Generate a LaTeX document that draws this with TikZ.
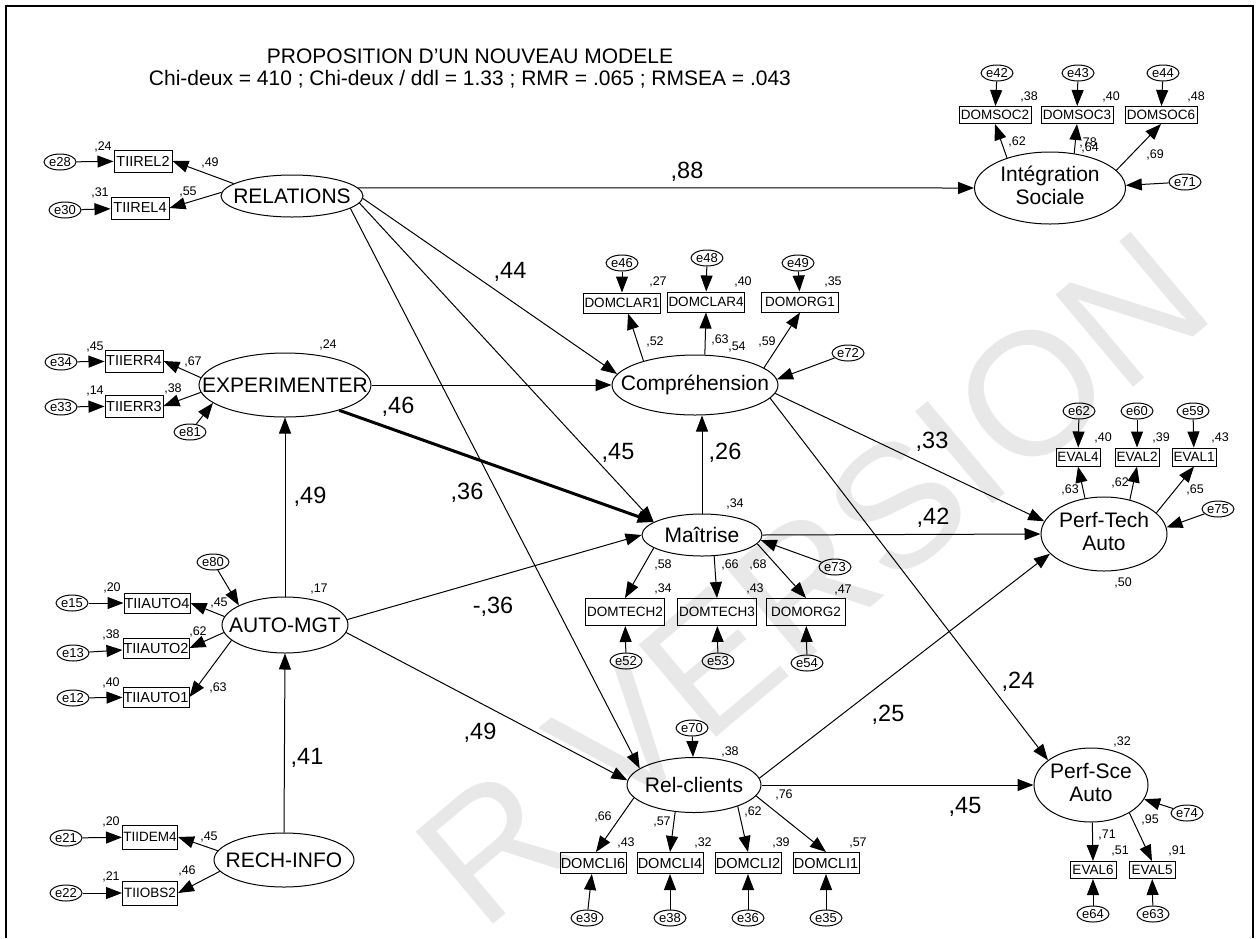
\documentclass[tikz,border=0pt]{standalone}
\usepackage{fontspec}
\setmainfont{Liberation Sans}
\usetikzlibrary{shapes.geometric,arrows.meta}

% latent names keep the size of their ellipse
\newcommand{\latname}[1]{\makebox[0pt]{#1}}
\newcommand{\latpair}[2]{\makebox[0pt]{\begin{tabular}{@{}c@{}}#1\\#2\end{tabular}}}

\tikzset{
  latent/.style={ellipse, draw, inner sep=0pt, font=\fontsize{21pt}{23pt}\selectfont},
  obs/.style={rectangle, draw, inner sep=0pt, font=\fontsize{13.5pt}{14pt}\selectfont},
  wideobs/.style={obs, font=\fontsize{14.5pt}{15pt}\selectfont},
  err/.style={ellipse, draw, inner sep=0pt, minimum width=32pt, minimum height=16pt,
    font=\fontsize{13pt}{14pt}\selectfont},
  coef/.style={inner sep=0pt, font=\fontsize{12.5pt}{13pt}\selectfont},
  bigcoef/.style={inner sep=0pt, font=\fontsize{23.5pt}{25pt}\selectfont},
  link/.style={-{Triangle[length=16pt,width=12pt]}},
}

\begin{document}
\begin{tikzpicture}[x=1pt, y=-1pt, line width=1pt]
    \useasboundingbox (0,0) rectangle (1258,938);

    % Watermark behind everything
    \node[rotate=40, inner sep=0pt, text=black!9,
      font=\fontsize{175pt}{175pt}\selectfont] (wm) at (812,578) {R VERSION};

    % Frame (open at the bottom)
    \draw[line width=2pt] (6,938) -- (6,6) -- (1253,6) -- (1253,938);

    % Title
    \node[anchor=base, font=\fontsize{21pt}{23pt}\selectfont] (title) at (470,63)
      {PROPOSITION D'UN NOUVEAU MODELE};
    \node[anchor=base, font=\fontsize{21pt}{23pt}\selectfont] (fit) at (470,85)
      {Chi-deux = 410 ; Chi-deux / ddl = 1.33 ; RMR = .065 ; RMSEA = .043};

    % Latent variables
    \node[latent, minimum width=142pt, minimum height=42pt] (REL) at (292,196) {\latname{RELATIONS}};
    \node[latent, minimum width=172pt, minimum height=64pt] (EXP) at (285,385) {\latname{EXPERIMENTER}};
    \node[latent, minimum width=126pt, minimum height=56pt] (AUTO) at (285,625) {\latname{AUTO-MGT}};
    \node[latent, minimum width=140pt, minimum height=54pt] (RECH) at (284,860) {\latname{RECH-INFO}};
    \node[latent, minimum width=151pt, minimum height=72pt] (INT) at (1050,188) {\latpair{Intégration}{Sociale}};
    \node[latent, minimum width=166pt, minimum height=60pt] (COMP) at (695,385) {\latname{Compréhension}};
    \node[latent, minimum width=120pt, minimum height=42pt] (MAI) at (702,535) {\latname{Maîtrise}};
    \node[latent, minimum width=126pt, minimum height=74pt] (PTA) at (1104,534) {\latpair{Perf-Tech}{Auto}};
    \node[latent, minimum width=134pt, minimum height=55pt] (RELC) at (694,785) {\latname{Rel-clients}};
    \node[latent, minimum width=114pt, minimum height=74pt] (PSA) at (1091,785) {\latpair{Perf-Sce}{Auto}};

    % Observed variables
    \foreach \n/\x/\y in {TIIREL2/143/161, TIIREL4/140/208, TIIERR4/134/361, TIIERR3/134/406}
    \node[wideobs, minimum width=58pt, minimum height=22pt] (\n) at (\x,\y) {\n};
    \foreach \n/\x/\y in {TIIAUTO4/157/603, TIIAUTO2/156/648, TIIAUTO1/156/697}
    \node[wideobs, minimum width=66pt, minimum height=20pt] (\n) at (\x,\y) {\n};
    \foreach \n/\x/\y in {TIIDEM4/150/837, TIIOBS2/150/893}
    \node[obs, minimum width=55pt, minimum height=24pt] (\n) at (\x,\y) {\n};
    \foreach \n/\x/\y in {DOMSOC2/995/115, DOMSOC3/1077/115, DOMSOC6/1161/115}
    \node[obs, minimum width=72pt, minimum height=17pt] (\n) at (\x,\y) {\n};
    \foreach \n/\x/\y in {DOMCLAR1/622/303, DOMCLAR4/706/302, DOMORG1/800/302}
    \node[obs, minimum width=77pt, minimum height=20pt] (\n) at (\x,\y) {\n};
    \foreach \n/\x/\y in {DOMTECH2/625/612, DOMTECH3/717/612, DOMORG2/806/612}
    \node[obs, minimum width=79pt, minimum height=27pt] (\n) at (\x,\y) {\n};
    \foreach \n/\x/\y in {DOMCLI6/593/863, DOMCLI4/670/863, DOMCLI2/748/863, DOMCLI1/826/863}
    \node[wideobs, minimum width=66pt, minimum height=21pt] (\n) at (\x,\y) {\n};
    \foreach \n/\x/\y in {EVAL4/1078/457, EVAL2/1137/457, EVAL1/1194/457}
    \node[obs, minimum width=44pt, minimum height=18pt] (\n) at (\x,\y) {\n};
    \foreach \n/\x/\y in {EVAL6/1093/870, EVAL5/1152/870}
    \node[obs, minimum width=46pt, minimum height=17pt] (\n) at (\x,\y) {\n};

    % Error terms and their arrows
    \foreach \e/\x/\y/\t in {e28/60/162/TIIREL2, e30/65/210/TIIREL4,
        e34/61/362/TIIERR4, e33/61/407/TIIERR3, e81/190/432/EXP.194,
        e80/213/562/AUTO.157, e15/72/603/TIIAUTO4, e13/73/653/TIIAUTO2, e12/73/698/TIIAUTO1,
        e21/66/838/TIIDEM4, e22/66/893/TIIOBS2,
        e42/997/73/DOMSOC2, e43/1078/73/DOMSOC3, e44/1163/73/DOMSOC6, e71/1185/182/INT.2,
        e46/622/263/DOMCLAR1, e48/707/258/DOMCLAR4, e49/798/263/DOMORG1, e72/848/353/COMP.4,
        e73/835/567/MAI.-5, e52/626/661/DOMTECH2, e53/718/661/DOMTECH3, e54/807/663/DOMORG2,
        e62/1079/411/EVAL4, e60/1137/411/EVAL2, e59/1193/411/EVAL1, e75/1218/509/PTA.6,
        e70/692/728/RELC, e39/587/918/DOMCLI6, e38/670/918/DOMCLI4, e36/748/918/DOMCLI2,
        e35/826/918/DOMCLI1, e64/1093/914/EVAL6, e63/1153/914/EVAL5, e74/1187/813/PSA.-15} {
        \node[err] (\e) at (\x,\y) {\e};
        \draw[link] (\e) -- (\t);
      }

    % Loadings
    \foreach \a/\b in {REL.168/TIIREL2.east, REL.177/TIIREL4.east,
        EXP.175/TIIERR4.east, EXP.185/TIIERR3.east,
        AUTO.172/TIIAUTO4.east, AUTO.187/TIIAUTO2.east, AUTO.196/TIIAUTO1.east,
        RECH.172/TIIDEM4.east, RECH.190/TIIOBS2.east,
        INT.145/DOMSOC2.south, INT.55/DOMSOC3.south, INT.15/DOMSOC6.south,
        COMP.155/DOMCLAR1.-60, COMP.72/DOMCLAR4.south, COMP.14/DOMORG1.south,
        MAI.195/DOMTECH2.north, MAI.-60/DOMTECH3.north, MAI.-9/DOMORG2.north,
        PTA.118/EVAL4.south, PTA.53/EVAL2.south, PTA.22/EVAL1.south,
        PSA.-88/EVAL6.north, PSA.-36/EVAL5.north,
        RELC.192/DOMCLI6.75, RELC.235/DOMCLI4.north, RELC.-26/DOMCLI2.north, RELC.-10/DOMCLI1.north}
    \draw[link] (\a) -- (\b);

    % Structural paths
    \foreach \a/\b in {REL.7/INT.west, REL.-2/COMP.172, REL.-6/MAI.165, REL.-12/RELC.163,
        EXP.east/COMP.west, AUTO.north/EXP.south, AUTO.5/MAI.west, AUTO.-7/RELC.176,
        RECH.north/AUTO.south, MAI.east/PTA.west, COMP.-6/PTA.168, COMP.-10/PSA.150,
        RELC.6/PTA.200, RELC.east/PSA.west}
    \draw[link] (\a) -- (\b);
    \draw[link] (MAI.north) -- (MAI.north |- COMP.south);
    \draw[link, line width=3pt] (EXP.-25) -- (MAI.165);

    % Small estimates
    \foreach \x/\y/\v [count=\i] in {103/147/24, 210/163/49, 100/193/31, 188/192/55,
        95/347/45, 193/362/67, 95/391/14, 173/389/38, 328/345/24,
        112/588/20, 219/603/45, 111/635/38, 198/632/62, 111/683/40, 218/688/63, 319/589/17,
        111/822/20, 209/837/45, 111/877/21, 187/871/46,
        1029/97/38, 1111/97/40, 1196/97/48, 1017/142/62, 1088/143/78, 1090/148/64, 1155/155/69,
        658/282/27, 743/282/40, 833/282/35, 655/342/52, 720/340/63, 737/347/54, 767/342/59,
        735/504/34, 663/565/58, 730/565/66, 758/565/68, 663/589/34, 755/589/43, 843/590/47,
        1103/438/40, 1161/438/39, 1220/438/43, 1070/490/63, 1120/483/62, 1195/490/65, 1123/583/50,
        730/752/38, 603/817/66, 662/822/57, 753/812/62, 784/795/76,
        626/843/43, 703/843/32, 781/843/39, 858/843/57,
        1122/742/32, 1107/835/71, 1150/820/95, 1120/851/51, 1177/851/91}
    \node[coef] (c\i) at (\x,\y) {,\v};

    % Path coefficients
    \foreach \x/\y/\v [count=\i] in {687/172/88, 510/272/44, 398/407/46, 618/453/45, 467/493/36,
        725/453/26, 310/497/49, 932/442/33, 933/518/42, 480/733/49, 307/758/41,
        1018/682/24, 888/715/25, 965/807/45}
    \node[bigcoef] (p\i) at (\x,\y) {,\v};
    \node[bigcoef] (pneg) at (493,607) {-,36};
  \end{tikzpicture}
\end{document}
